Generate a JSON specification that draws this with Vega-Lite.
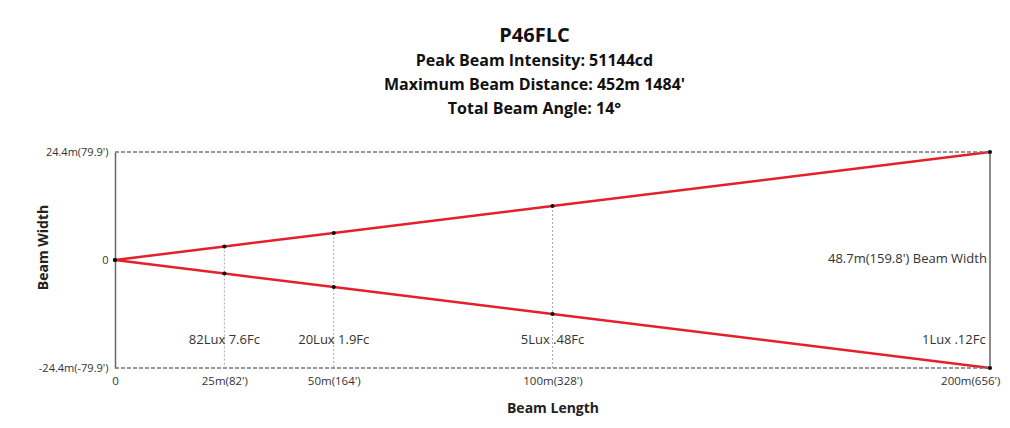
{
  "$schema": "https://vega.github.io/schema/vega-lite/v6.json",
  "width": 875,
  "height": 216,
  "autosize": "none",
  "padding": {"left": 115, "top": 152, "right": 20, "bottom": 60},
  "background": "white",
  "config": {"view": {"stroke": null}, "font": "Open Sans"},
  "title": {
    "text": "P46FLC",
    "subtitle": ["Peak Beam Intensity: 51144cd", "Maximum Beam Distance: 452m 1484'", "Total Beam Angle: 14°"],
    "font": "Open Sans",
    "subtitleFont": "Open Sans",
    "fontSize": 20,
    "fontWeight": "bold",
    "color": "#111",
    "subtitleFontSize": 16,
    "subtitleFontWeight": "bold",
    "subtitleColor": "#111",
    "subtitleLineHeight": 24,
    "subtitlePadding": 7,
    "anchor": "middle",
    "dx": -18,
    "offset": 29
  },
  "datasets": {
    "beam": [
      {"x": 0, "y": 0, "side": "upper"},
      {"x": 25, "y": 3.05, "side": "upper"},
      {"x": 50, "y": 6.1, "side": "upper"},
      {"x": 100, "y": 12.2, "side": "upper"},
      {"x": 200, "y": 24.4, "side": "upper"},
      {"x": 0, "y": 0, "side": "lower"},
      {"x": 25, "y": -3.05, "side": "lower"},
      {"x": 50, "y": -6.1, "side": "lower"},
      {"x": 100, "y": -12.2, "side": "lower"},
      {"x": 200, "y": -24.4, "side": "lower"}
    ],
    "hborders": [
      {"x": 0, "x2": 200, "y": 24.4},
      {"x": 0, "x2": 200, "y": -24.4}
    ],
    "vborder": [
      {"x": 200, "y": -24.4, "y2": 24.4}
    ],
    "drops": [
      {"x": 25, "y": 3.05, "y2": -24.4},
      {"x": 50, "y": 6.1, "y2": -24.4},
      {"x": 100, "y": 12.2, "y2": -24.4}
    ],
    "clabels": [
      {"x": 25, "y": -18.1, "label": "82Lux 7.6Fc"},
      {"x": 50, "y": -18.1, "label": "20Lux 1.9Fc"},
      {"x": 100, "y": -18.1, "label": "5Lux .48Fc"}
    ],
    "rlabels": [
      {"x": 199, "y": -18.1, "label": "1Lux .12Fc"},
      {"x": 199.3, "y": 0.2, "label": "48.7m(159.8') Beam Width"}
    ]
  },
  "layer": [
    {
      "data": {"name": "beam"},
      "mark": {"type": "line", "color": "#e3202b", "strokeWidth": 2.5},
      "encoding": {
        "x": {
          "field": "x", "type": "quantitative",
          "scale": {"domain": [0, 200], "nice": false},
          "axis": {
            "title": "Beam Length",
            "titleFont": "Open Sans", "titleFontSize": 14, "titleFontWeight": "bold", "titleColor": "#222",
            "titleY": 33, "titleBaseline": "top",
            "values": [0, 25, 50, 100, 200],
            "labelExpr": "datum.value == 0 ? '0' : datum.value == 25 ? \"25m(82')\" : datum.value == 50 ? \"50m(164')\" : datum.value == 100 ? \"100m(328')\" : \"200m(656')\"",
            "labelAlign": {"expr": "datum.value == 200 ? 'right' : 'center'"},
            "labelOffset": {"expr": "datum.value == 200 ? 10 : 0"},
            "labelFontSize": 11.5, "labelColor": "#333", "labelPadding": 7,
            "domain": false, "ticks": false, "grid": false
          }
        },
        "y": {
          "field": "y", "type": "quantitative",
          "scale": {"domain": [-24.4, 24.4], "nice": false},
          "axis": {
            "title": "Beam Width",
            "titleFont": "Open Sans", "titleFontSize": 14, "titleFontWeight": "bold", "titleColor": "#222",
            "titleX": -65, "titleY": 95,
            "values": [-24.4, 0, 24.4],
            "labelExpr": "datum.value == 0 ? '0' : datum.value > 0 ? \"24.4m(79.9')\" : \"-24.4m(-79.9')\"",
            "labelFontSize": 11, "labelColor": "#333", "labelPadding": 7,
            "domain": true, "domainColor": "#666", "domainWidth": 1.5,
            "ticks": false, "grid": false
          }
        },
        "detail": {"field": "side", "type": "nominal"}
      }
    },
    {
      "data": {"name": "hborders"},
      "mark": {"type": "rule", "color": "#777", "strokeWidth": 1.5, "strokeDash": [4, 2]},
      "encoding": {
        "x": {"field": "x", "type": "quantitative"},
        "x2": {"field": "x2"},
        "y": {"field": "y", "type": "quantitative"}
      }
    },
    {
      "data": {"name": "vborder"},
      "mark": {"type": "rule", "color": "#666", "strokeWidth": 1.5},
      "encoding": {
        "x": {"field": "x", "type": "quantitative"},
        "y": {"field": "y", "type": "quantitative"},
        "y2": {"field": "y2"}
      }
    },
    {
      "data": {"name": "drops"},
      "mark": {"type": "rule", "color": "#aaa", "strokeWidth": 1, "strokeDash": [2, 2]},
      "encoding": {
        "x": {"field": "x", "type": "quantitative"},
        "y": {"field": "y", "type": "quantitative"},
        "y2": {"field": "y2"}
      }
    },
    {
      "data": {"name": "beam"},
      "mark": {"type": "point", "filled": true, "color": "#111", "size": 18, "opacity": 1},
      "encoding": {
        "x": {"field": "x", "type": "quantitative"},
        "y": {"field": "y", "type": "quantitative"}
      }
    },
    {
      "data": {"name": "clabels"},
      "mark": {"type": "text", "fontSize": 13, "color": "#333", "baseline": "middle", "align": "center", "font": "Open Sans"},
      "encoding": {
        "x": {"field": "x", "type": "quantitative"},
        "y": {"field": "y", "type": "quantitative"},
        "text": {"field": "label"}
      }
    },
    {
      "data": {"name": "rlabels"},
      "mark": {"type": "text", "fontSize": 13, "color": "#333", "baseline": "middle", "align": "right", "font": "Open Sans"},
      "encoding": {
        "x": {"field": "x", "type": "quantitative"},
        "y": {"field": "y", "type": "quantitative"},
        "text": {"field": "label"}
      }
    }
  ]
}
